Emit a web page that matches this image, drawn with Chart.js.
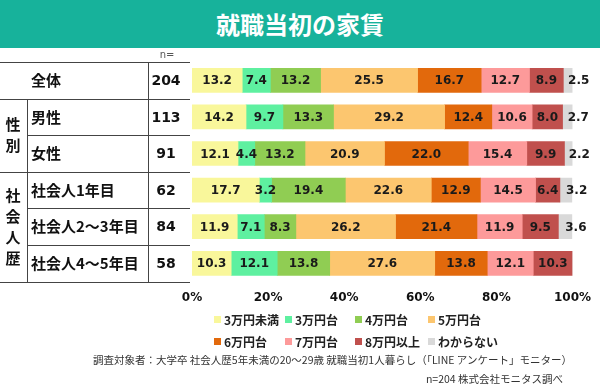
<!DOCTYPE html>
<html lang="ja">
<head>
<meta charset="utf-8">
<script src="https://cdn.jsdelivr.net/npm/chart.js@4.4.0/dist/chart.umd.min.js"></script>
<style>
  body { margin: 0; width: 600px; height: 385px; overflow: hidden; background: #fff; position: relative;
         font-family: 'Noto Sans CJK JP', sans-serif; }
  #banner { position: absolute; left: 0; top: 0; width: 600px; height: 48px; background: #17b29b; color: #fff;
            font-weight: bold; font-size: 24px; line-height: 48px; text-align: center; z-index: 2; }
  #wrap { position: absolute; left: 0; top: 0; width: 600px; height: 385px; }
  #legend { position: absolute; left: 214px; top: 311px; display: grid;
            grid-template-columns: 71px 70px 73px 80px; row-gap: 5px; z-index: 2; }
  .item { display: flex; align-items: center; font-size: 12px; font-weight: bold; color: #222; height: 17px; white-space: nowrap; }
  .mark { width: 7px; height: 7px; margin-right: 3px; }
  .note { position: absolute; font-size: 10.5px; color: #333; white-space: nowrap; z-index: 2; }
</style>
</head>
<body>
<div id="banner">就職当初の家賃</div>
<div id="wrap"><canvas id="chartRent"></canvas></div>
<div id="legend"></div>
<div class="note" style="left:93px; top:352px;">調査対象者：大学卒 社会人歴5年未満の20～29歳 就職当初1人暮らし（「LINE アンケート」モニター）</div>
<div class="note" style="right:37px; top:371px;">n=204 株式会社モニタス調べ</div>
<script>
// ---- data ----
const rowLabels = ['全体', '男性', '女性', '社会人1年目', '社会人2～3年目', '社会人4～5年目'];
const rowN = [204, 113, 91, 62, 84, 58];
const groupNames = ['性別', '社会人歴'];
const groupFirst = [1, 3];
const groupLast = [2, 5];

const seriesNames = ['3万円未満', '3万円台', '4万円台', '5万円台', '6万円台', '7万円台', '8万円以上', 'わからない'];
const seriesColors = ['#f9f79b', '#5ef0a0', '#90cd53', '#fcc66f', '#e2690c', '#fd9a9a', '#c0504d', '#d9d9d9'];

const under3 = [13.2, 14.2, 12.1, 17.7, 11.9, 10.3];
const yen3   = [7.4, 9.7, 4.4, 3.2, 7.1, 12.1];
const yen4   = [13.2, 13.3, 13.2, 19.4, 8.3, 13.8];
const yen5   = [25.5, 29.2, 20.9, 22.6, 26.2, 27.6];
const yen6   = [16.7, 12.4, 22.0, 12.9, 21.4, 13.8];
const yen7   = [12.7, 10.6, 15.4, 14.5, 11.9, 12.1];
const over8  = [8.9, 8.0, 9.9, 6.4, 9.5, 10.3];
const unknown = [2.5, 2.7, 2.2, 3.2, 3.6, 0];
const seriesValues = [under3, yen3, yen4, yen5, yen6, yen7, over8, unknown];

const xTicks = [0, 20, 40, 60, 80, 100];

// ---- legend (html) ----
const legendEl = document.getElementById('legend');
seriesNames.forEach((name, i) => {
  const it = document.createElement('div');
  it.className = 'item';
  it.innerHTML = '<span class="mark" style="background:' + seriesColors[i] + '"></span>' + name;
  legendEl.appendChild(it);
});

// ---- plugins ----
const barValueLabels = {
  id: 'barValueLabels',
  afterDatasetsDraw(chart) {
    const ctx = chart.ctx;
    ctx.save();
    ctx.font = 'bold 12px "DejaVu Sans"';
    ctx.fillStyle = '#1a1a1a';
    ctx.textBaseline = 'middle';
    const last = chart.data.datasets.length - 1;
    chart.data.datasets.forEach((ds, di) => {
      const meta = chart.getDatasetMeta(di);
      meta.data.forEach((bar, i) => {
        const v = ds.data[i];
        if (!v) return;
        const p = bar.getProps(['x', 'y', 'base'], true);
        const cx = (p.x + p.base) / 2;
        // the last (grey) segment is thin, its label runs out to the right
        ctx.textAlign = di === last ? 'left' : 'center';
        ctx.fillText(v.toFixed(1), cx, p.y + 1);
      });
    });
    ctx.restore();
  }
};

const sideTable = {
  id: 'sideTable',
  afterDraw(chart) {
    const ctx = chart.ctx;
    const area = chart.chartArea;
    const rows = rowLabels.length;
    const step = (area.bottom - area.top) / rows;
    const rowTop = i => Math.round(area.top + i * step) + 0.5;
    const right = 190;
    ctx.save();
    ctx.strokeStyle = '#444';
    ctx.lineWidth = 1;
    ctx.beginPath();
    for (let i = 0; i <= rows; i++) {
      let inside = false;
      groupFirst.forEach((g, k) => { if (i > g && i <= groupLast[k]) inside = true; });
      const x0 = inside ? 27 : 0;
      ctx.moveTo(x0, rowTop(i));
      ctx.lineTo(right, rowTop(i));
    }
    ctx.moveTo(27.5, rowTop(1));
    ctx.lineTo(27.5, rowTop(rows));
    ctx.moveTo(148.5, rowTop(0));
    ctx.lineTo(148.5, rowTop(rows));
    ctx.stroke();

    ctx.fillStyle = '#111';
    ctx.textBaseline = 'middle';
    // row labels
    ctx.font = 'bold 15px "Noto Sans CJK JP"';
    ctx.textAlign = 'left';
    rowLabels.forEach((lab, i) => {
      ctx.fillText(lab, 31, area.top + (i + 0.5) * step);
    });
    // group labels, vertical
    ctx.textAlign = 'center';
    groupNames.forEach((name, k) => {
      const mid = area.top + ((groupFirst[k] + groupLast[k] + 1) / 2) * step;
      const chars = [...name];
      chars.forEach((c, j) => {
        ctx.fillText(c, 13, mid + (j - (chars.length - 1) / 2) * 21);
      });
    });
    // n column
    ctx.font = 'bold 14px "DejaVu Sans"';
    rowN.forEach((n, i) => {
      ctx.fillText(String(n), 166, area.top + (i + 0.5) * step + 1);
    });
    ctx.font = '10px "DejaVu Sans"';
    ctx.fillStyle = '#555';
    ctx.fillText('n=', 167, 55);
    ctx.restore();
  }
};

// ---- chart ----
new Chart(document.getElementById('chartRent').getContext('2d'), {
  type: 'bar',
  data: {
    labels: rowLabels,
    datasets: seriesNames.map((name, i) => ({
      label: name,
      data: seriesValues[i],
      backgroundColor: seriesColors[i],
      borderWidth: 0,
      barThickness: 24,
    }))
  },
  options: {
    indexAxis: 'y',
    responsive: true,
    maintainAspectRatio: false,
    animation: false,
    layout: { padding: { left: 192, right: 25, top: 62, bottom: 71 } },
    plugins: {
      legend: { display: false },
      tooltip: { enabled: false },
    },
    scales: {
      x: {
        stacked: true,
        min: 0,
        max: 100,
        afterBuildTicks: axis => { axis.ticks = xTicks.map(v => ({ value: v })); },
        ticks: {
          padding: 9,
          color: '#111',
          font: { family: 'DejaVu Sans', size: 12, weight: 'bold' },
          callback: v => v + '%'
        },
        grid: { display: false, drawTicks: false },
        border: { display: false }
      },
      y: {
        stacked: true,
        display: false
      }
    }
  },
  plugins: [barValueLabels, sideTable]
});
</script>
</body>
</html>
